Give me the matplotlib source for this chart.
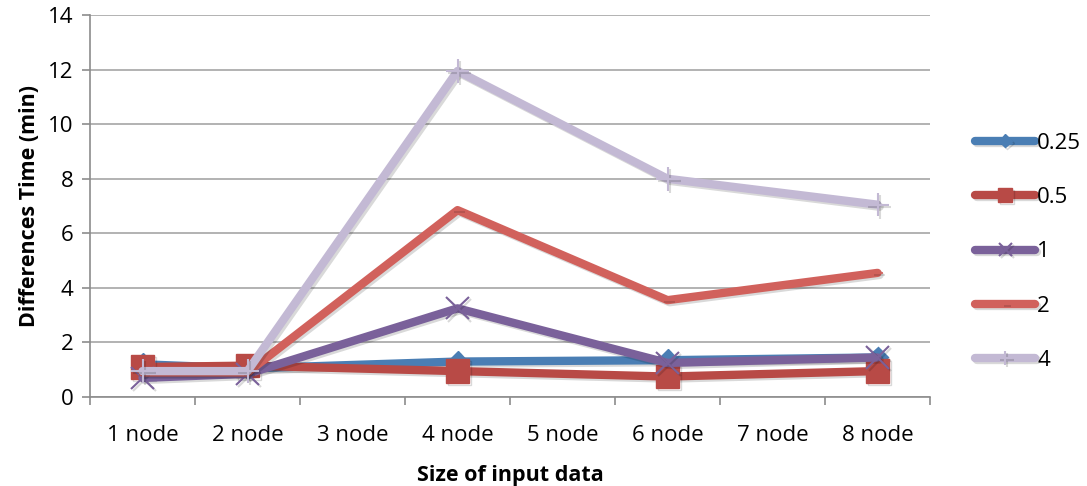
import matplotlib
matplotlib.use("Agg")
import matplotlib.pyplot as plt
import matplotlib.patheffects as pe

plt.rcParams["font.family"] = ["Open Sans", "DejaVu Sans"]

CATEGORIES = ["1 node", "2 node", "3 node", "4 node", "5 node", "6 node", "7 node", "8 node"]
DATA_IDX = [0, 1, 3, 5, 7]  # categories that carry data

S_025 = [1.2, 1.05, 1.3, 1.35, 1.45]
S_05 = [1.1, 1.15, 0.95, 0.75, 0.95]
S_1 = [0.7, 0.85, 3.25, 1.25, 1.45]
S_2 = [0.9, 0.9, 6.85, 3.55, 4.55]
S_4 = [0.95, 0.95, 11.95, 8.0, 7.05]

SERIES = [
    ("0.25", S_025, "#4a7eb4", "D", 11, 1.0),
    ("0.5", S_05, "#b84a46", "s", 17, 1.0),
    ("1", S_1, "#7a619a", "x", 16, 1.5),
    ("2", S_2, "#d1615c", "_", 8, 1.2),
    ("4", S_4, "#c3b9d4", "+", 17, 1.5),
]

FS = 16

fig = plt.figure(figsize=(10.87, 4.86), dpi=100)
ax = fig.add_axes([0.0828, 0.1831, 0.7728, 0.7859])

shadow = [pe.SimpleLineShadow(offset=(1.5, -1.5), alpha=0.15), pe.Normal()]
for label, vals, color, marker, ms, mew in SERIES:
    ax.plot(DATA_IDX, vals, color=color, lw=6, solid_capstyle="round",
            solid_joinstyle="round", marker=marker, markersize=ms,
            markeredgewidth=mew, markeredgecolor=color, markerfacecolor=color,
            label=label, zorder=3, path_effects=shadow)

ax.set_xlim(-0.5, 7.5)
ax.set_ylim(0, 14)
ax.set_yticks(range(0, 15, 2))
ax.set_xticks([i - 0.5 for i in range(9)])
ax.set_xticklabels([])
ax.set_xticks(range(8), minor=True)
ax.set_xticklabels(CATEGORIES, minor=True)
ax.tick_params(axis="x", which="minor", length=0, pad=20, labelsize=FS)
ax.tick_params(axis="x", which="major", length=6, color="#8c8c8c", width=1.2)
ax.tick_params(axis="y", length=6, color="#8c8c8c", width=1.2, labelsize=FS, pad=6)

ax.grid(axis="y", color="#a6a6a6", lw=1.2, zorder=0)
ax.set_axisbelow(True)
for s in ("top", "right"):
    ax.spines[s].set_visible(False)
for s in ("left", "bottom"):
    ax.spines[s].set_color("#8c8c8c")
    ax.spines[s].set_linewidth(1.2)

ax.set_ylabel("Differences Time (min)", fontsize=FS - 0.5, fontweight="bold", labelpad=6)
ax.set_xlabel("Size of input data", fontsize=FS - 0.5, fontweight="bold", labelpad=14)

leg = ax.legend(loc="center left", bbox_to_anchor=(1.03, 0.38), frameon=False,
                fontsize=FS, handlelength=2.7, handletextpad=0.08,
                labelspacing=1.5, markerscale=0.6)

fig.savefig("out.png", dpi=100)
